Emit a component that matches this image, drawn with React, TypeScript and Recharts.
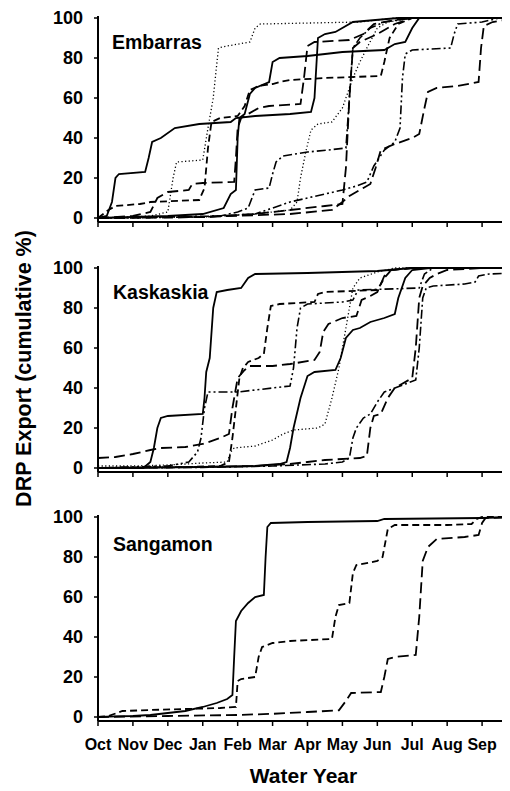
import React from 'react';
import { LineChart, Line, XAxis, YAxis } from 'recharts';

type Pt = [number, number];

const monthLabels = ['Oct', 'Nov', 'Dec', 'Jan', 'Feb', 'Mar', 'Apr', 'May', 'Jun', 'Jul', 'Aug', 'Sep', ''];
const monthTicks = [0, 1, 2, 3, 4, 5, 6, 7, 8, 9, 10, 11, 12];
const yTicks = [0, 20, 40, 60, 80, 100];
const panelNames = ['Embarras', 'Kaskaskia', 'Sangamon'];
const xTitle = 'Water Year';
const yTitle = 'DRP Export (cumulative %)';

// ---- Embarras (month index from Oct 1, cumulative %) ----
const embarras1: Pt[] = [[0,0],[0.25,1],[0.4,8],[0.5,20],[0.6,22],[1.35,23],[1.45,30],[1.55,38],[1.8,40],[2.2,45],[2.9,47],[3.8,48],[3.95,50],[4.5,51],[5.5,52],[6.1,53],[6.2,60],[6.3,90],[6.5,92],[6.8,93],[7.3,98],[8.6,100],[12,100]];
const embarras2: Pt[] = [[0,0],[1.5,1],[2.0,3],[2.15,20],[2.25,28],[3.0,29],[3.15,45],[3.3,60],[3.45,85],[3.7,86],[4.35,88],[4.5,95],[4.65,97],[7.5,98],[8.5,100],[12,100]];
const embarras3: Pt[] = [[0,0],[2,1],[3.0,2],[3.6,5],[3.8,12],[3.95,14],[4.0,40],[4.05,50],[4.2,52],[4.35,62],[4.5,65],[4.9,68],[5.0,78],[5.2,80],[6.0,81],[7.0,83],[8.2,84],[8.5,87],[8.8,88],[9.0,95],[9.2,100],[12,100]];
const embarras4: Pt[] = [[0,0],[0.3,4],[0.5,6],[1.2,7],[1.5,8],[2.9,9],[3.05,15],[3.15,35],[3.25,48],[3.5,50],[4.0,51],[4.2,56],[4.35,64],[4.6,66],[5.0,67],[5.2,68],[5.5,69],[6.5,70],[8.1,71],[8.2,78],[8.35,90],[8.6,97],[9,100],[12,100]];
const embarras5: Pt[] = [[0,0],[1.0,1],[1.5,3],[1.7,10],[2.0,13],[2.6,14],[2.7,17],[3.0,17.5],[3.9,18],[3.95,30],[4.0,45],[4.1,50],[4.3,52],[4.6,55],[4.9,56],[5.8,57],[5.9,70],[6.0,86],[6.2,88],[7.2,89],[7.6,92],[7.9,97],[8.5,99],[9,100],[12,100]];
const embarras6: Pt[] = [[0,0],[3.5,1],[4.0,3],[4.3,5],[4.5,14],[4.9,15],[5.0,22],[5.1,28],[5.3,31],[6.0,33],[6.6,34],[7.1,35],[7.2,60],[7.3,85],[7.5,90],[7.8,95],[8.2,98],[9,100],[12,100]];
const embarras7: Pt[] = [[0,0],[3,0.5],[5.5,2],[6.7,4],[7.0,8],[7.2,11],[7.6,15],[7.8,17],[7.95,25],[8.1,34],[8.5,37],[9.0,40],[9.2,42],[9.35,55],[9.45,63],[9.7,65],[10.3,66],[10.9,68],[10.97,85],[11.05,96],[11.3,98],[12,100]];
const embarras8: Pt[] = [[0,0],[3,0.5],[4.5,2],[5.0,5],[5.5,8],[6.0,10],[6.5,12],[7.0,14],[7.4,16],[7.7,18],[7.9,26],[8.2,34],[8.5,38],[8.65,45],[8.72,70],[8.8,82],[9.0,84],[10.1,85],[10.2,92],[10.3,97],[11,98],[11.5,100],[12,100]];
const embarras9: Pt[] = [[0,0],[3,0.5],[4.5,2],[5.5,4],[6.5,6],[7.0,7],[7.1,25],[7.2,60],[7.3,85],[7.5,88],[8.0,92],[8.5,97],[9,100],[12,100]];
const embarras10: Pt[] = [[0,0],[3,0.5],[4.5,2],[5.5,4],[5.7,8],[5.8,20],[5.95,33],[6.1,44],[6.3,47],[6.7,48],[7.0,55],[7.3,70],[7.5,78],[7.7,85],[8.0,95],[8.3,98],[9,100],[12,100]];

// ---- Kaskaskia ----
const kaskaskia1: Pt[] = [[0,0],[1.3,0],[1.5,3],[1.6,10],[1.7,20],[1.8,25],[2.0,26],[3.0,27],[3.05,35],[3.1,48],[3.2,55],[3.3,80],[3.4,88],[3.7,89],[4.1,90],[4.3,95],[4.5,97],[6.0,97.5],[8.0,98.5],[9,100],[12,100]];
const kaskaskia2: Pt[] = [[0,0],[2.0,1],[2.6,3],[2.85,8],[2.95,15],[3.05,30],[3.15,38],[4.0,38],[4.5,39],[5.5,41],[5.6,50],[5.7,70],[5.8,80],[6.0,82],[7.0,83],[7.3,84],[7.45,89],[9.2,90],[9.35,97],[9.6,100],[12,100]];
const kaskaskia3: Pt[] = [[0,5],[0.5,5.5],[1.0,7],[1.5,9],[1.8,10],[2.5,10.5],[3.0,12],[3.5,15],[3.75,17],[3.85,30],[4.0,45],[4.2,49],[4.35,51],[5.0,51],[5.5,52],[6.2,54],[6.35,58],[6.45,68],[6.6,72],[7.0,75],[7.4,76],[7.55,84],[7.8,86],[8.0,88],[8.2,96],[8.4,99],[9,100],[12,100]];
const kaskaskia4: Pt[] = [[0,0],[2.5,0.5],[3.5,1],[3.75,3],[3.85,15],[3.95,30],[4.05,45],[4.15,50],[4.3,53],[4.6,55],[4.75,57],[4.85,70],[4.95,81],[5.2,82],[6.2,83],[6.3,87],[6.5,88],[8.0,89],[8.2,95],[8.4,99],[9,100],[12,100]];
const kaskaskia5: Pt[] = [[0,0],[3,0.5],[4.5,1],[5.2,2],[5.4,3],[5.5,10],[5.6,20],[5.8,35],[6.0,46],[6.2,48],[6.8,49],[6.95,55],[7.1,65],[7.3,69],[7.5,70],[7.8,73],[8.2,75],[8.5,77],[8.6,85],[8.8,95],[9.0,99],[9.5,100],[12,100]];
const kaskaskia6: Pt[] = [[0,1],[1.0,1],[2.0,1.5],[3.0,2.5],[3.7,3],[3.8,8],[3.9,10],[4.5,11],[5.0,14],[5.3,17],[5.6,19],[6.3,20],[6.5,22],[6.7,35],[6.9,50],[7.1,70],[7.3,90],[7.5,95],[8.0,98],[8.5,100],[12,100]];
const kaskaskia7: Pt[] = [[0,0],[3,0.3],[5,1],[6.5,2],[7.0,3],[7.2,5],[7.3,15],[7.4,20],[7.6,25],[7.8,27],[8.0,33],[8.2,38],[8.5,40],[8.8,42],[9.1,44],[9.2,60],[9.3,85],[9.4,90],[9.6,91],[10.5,92],[10.8,93],[10.9,96],[11.2,97],[12,97.5]];
const kaskaskia8: Pt[] = [[0,0],[3,0.5],[4.5,1],[5.5,2],[6.0,3],[6.5,4],[7.5,5],[7.7,6],[7.8,20],[7.9,26],[8.1,27],[8.3,35],[8.5,40],[8.7,42],[9.0,45],[9.1,60],[9.2,85],[9.3,91],[9.5,95],[9.7,97],[10,99],[11,100],[12,100]];

// ---- Sangamon ----
const sangamon1: Pt[] = [[0,0],[0.5,0.3],[1.0,0.5],[1.5,1],[2.0,2],[2.5,3],[3.0,5],[3.4,7],[3.7,9],[3.85,11],[3.9,30],[3.95,48],[4.1,53],[4.3,57],[4.5,60],[4.75,61],[4.8,80],[4.85,95],[4.95,97],[6.0,97.5],[8.0,98],[8.2,99],[11,99.5],[12,100]];
const sangamon2: Pt[] = [[0,0],[0.3,0.5],[0.7,3],[1.5,3.5],[2.5,4],[3.5,4.5],[3.95,5],[4.0,18],[4.1,19],[4.5,20],[4.6,30],[4.7,35],[5.0,37],[5.5,38],[6.7,39],[6.8,50],[6.9,56],[7.2,57],[7.3,72],[7.4,76],[8.0,78],[8.15,80],[8.3,94],[8.5,96],[10.0,96],[10.7,96.5],[10.85,99],[11,100],[12,100]];
const sangamon3: Pt[] = [[0,0],[2,0.5],[4,1],[5,1.6],[6,2.5],[6.9,3.3],[7.1,8],[7.25,12],[8.1,12.5],[8.2,20],[8.3,29],[8.5,30],[9.1,31],[9.2,50],[9.3,78],[9.45,85],[9.7,89],[10.5,90],[10.9,91],[11.0,97],[11.1,99.5],[12,100]];

const STYLES: Record<string, { dash?: string; width: number }> = {
  solid: { width: 1.8 },
  dotted: { dash: '1.2 2.4', width: 1.3 },
  longDash: { dash: '11 5', width: 1.8 },
  dash: { dash: '7 4', width: 1.8 },
  dashDot: { dash: '9 3 2 3', width: 1.6 },
  dashDotDot: { dash: '9 3 2 3 2 3', width: 1.6 },
};

type Series = { id: string; pts: Pt[]; style: string };

const embarrasSeries: Series[] = [
  { id: 'e1', pts: embarras1, style: 'solid' },
  { id: 'e2', pts: embarras2, style: 'dotted' },
  { id: 'e3', pts: embarras3, style: 'solid' },
  { id: 'e4', pts: embarras4, style: 'dash' },
  { id: 'e5', pts: embarras5, style: 'longDash' },
  { id: 'e6', pts: embarras6, style: 'dashDot' },
  { id: 'e7', pts: embarras7, style: 'longDash' },
  { id: 'e8', pts: embarras8, style: 'dashDotDot' },
  { id: 'e9', pts: embarras9, style: 'longDash' },
  { id: 'e10', pts: embarras10, style: 'dotted' },
];
const kaskaskiaSeries: Series[] = [
  { id: 'k1', pts: kaskaskia1, style: 'solid' },
  { id: 'k2', pts: kaskaskia2, style: 'dashDotDot' },
  { id: 'k3', pts: kaskaskia3, style: 'longDash' },
  { id: 'k4', pts: kaskaskia4, style: 'dash' },
  { id: 'k5', pts: kaskaskia5, style: 'solid' },
  { id: 'k6', pts: kaskaskia6, style: 'dotted' },
  { id: 'k7', pts: kaskaskia7, style: 'dashDot' },
  { id: 'k8', pts: kaskaskia8, style: 'longDash' },
];
const sangamonSeries: Series[] = [
  { id: 's1', pts: sangamon1, style: 'solid' },
  { id: 's2', pts: sangamon2, style: 'dash' },
  { id: 's3', pts: sangamon3, style: 'longDash' },
];

const FONT = '"Liberation Sans", Arial, Helvetica, sans-serif';

function Panel({ series, height, showMonths, xHeight }: { series: Series[]; height: number; showMonths: boolean; xHeight: number }) {
  return (
    <LineChart width={509} height={height} margin={{ top: 8, right: 0, bottom: 0, left: 0 }}>
      <XAxis
        type="number"
        dataKey="m"
        domain={[0, 12]}
        ticks={monthTicks}
        interval={0}
        allowDataOverflow
        height={xHeight}
        tickSize={5}
        tickMargin={13}
        axisLine={{ stroke: '#000', strokeWidth: 2 }}
        tickLine={{ stroke: '#000', strokeWidth: 1.5 }}
        tickFormatter={(v: number) => (showMonths ? monthLabels[v] ?? '' : '')}
        tick={{ fontSize: 16, fontWeight: 'bold', fill: '#000', fontFamily: FONT }}
      />
      <XAxis
        xAxisId="top"
        orientation="top"
        type="number"
        domain={[0, 12]}
        height={0}
        tick={false}
        tickLine={false}
        axisLine={{ stroke: '#000', strokeWidth: 2 }}
      />
      <YAxis
        type="number"
        domain={[-2, 101]}
        ticks={yTicks}
        interval={0}
        width={90}
        allowDataOverflow
        tickSize={4}
        tickMargin={11}
        axisLine={{ stroke: '#000', strokeWidth: 2 }}
        tickLine={{ stroke: '#000', strokeWidth: 1.5 }}
        tick={{ fontSize: 18, fontWeight: 'bold', fill: '#000', fontFamily: FONT }}
      />
      {series.map((s) => (
        <Line
          key={s.id}
          data={s.pts.map(([m, v]) => ({ m, v }))}
          dataKey="v"
          type="linear"
          stroke="#000"
          strokeWidth={STYLES[s.style].width}
          strokeDasharray={STYLES[s.style].dash}
          dot={false}
          activeDot={false}
          isAnimationActive={false}
        />
      ))}
    </LineChart>
  );
}

export default function App() {
  return (
    <div style={{ position: 'relative', width: 502, height: 783, overflow: 'hidden', background: '#fff' }}>
      <div style={{ position: 'absolute', left: 0, top: 0 }}>
        <Panel series={embarrasSeries} height={244} showMonths={false} xHeight={30} />
      </div>
      <div style={{ position: 'absolute', left: 0, top: 250 }}>
        <Panel series={kaskaskiaSeries} height={244} showMonths={false} xHeight={30} />
      </div>
      <div style={{ position: 'absolute', left: 0, top: 499 }}>
        <Panel series={sangamonSeries} height={254} showMonths={true} xHeight={40} />
      </div>
      <svg width={502} height={783} style={{ position: 'absolute', left: 0, top: 0, pointerEvents: 'none' }}>
        <g fontFamily={FONT} fontWeight="bold" fill="#000">
          <text x={104} y={40.5} fontSize={19.5}>{panelNames[0]}</text>
          <text x={105} y={290.5} fontSize={19.5}>{panelNames[1]}</text>
          <text x={105} y={543} fontSize={19.5}>{panelNames[2]}</text>
          <text x={295.5} y={775} fontSize={21} textAnchor="middle">{xTitle}</text>
          <text transform="translate(23,360.5) rotate(-90)" fontSize={21.5} textAnchor="middle">{yTitle}</text>
        </g>
      </svg>
    </div>
  );
}
